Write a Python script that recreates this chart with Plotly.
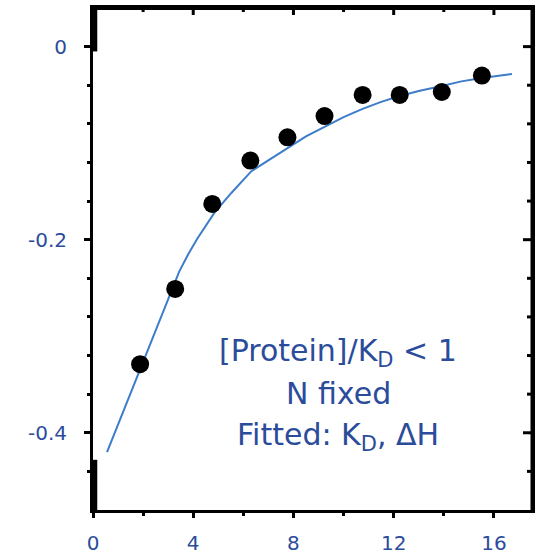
import plotly.graph_objects as go

# Data points
pts_x = [1.88, 3.28, 4.76, 6.28, 7.76, 9.24, 10.76, 12.24, 13.92, 15.52]
pts_y = [-0.329, -0.251, -0.163, -0.118, -0.094, -0.072, -0.050, -0.050, -0.047, -0.030]

# Fitted curve
fit_x = [0.56, 3.32, 3.44, 3.8, 4.16, 4.84, 5.52, 6.32, 7.24, 7.76, 8.5, 9.24, 10.0, 10.76, 11.5, 12.24, 13.0, 13.92, 14.7, 15.52, 16.72]
fit_y = [-0.420, -0.2397, -0.2330, -0.2150, -0.1990, -0.1723, -0.1516, -0.1290, -0.1135, -0.1050, -0.093, -0.0832, -0.073, -0.0645, -0.0572, -0.0511, -0.046, -0.0407, -0.036, -0.0324, -0.0283]

x_ticks = [0, 4, 8, 12, 16]
x_minor = [2, 6, 10, 14]
y_ticks = [0, -0.2, -0.4]
y_minor = [-0.04, -0.08, -0.12, -0.16, -0.24, -0.28, -0.32, -0.36, -0.44]
y_tick_labels = ["0", "-0.2", "-0.4"]

blue_text = "#2b4c9b"
font_family = "DejaVu Sans"
bg = "white"

fig = go.Figure()
fig.add_trace(go.Scatter(x=fit_x, y=fit_y, mode="lines",
                         line=dict(color="#3d7cc9", width=2), hoverinfo="skip"))
fig.add_trace(go.Scatter(x=pts_x, y=pts_y, mode="markers",
                         marker=dict(color="black", size=18)))

xr = [0, 17.52]
yr = [-0.48, 0.04]

fig.update_layout(
    width=537, height=557,
    margin=dict(l=93, r=5, t=8, b=47, autoexpand=False),
    paper_bgcolor=bg, plot_bgcolor=bg,
    showlegend=False,
    font=dict(family=font_family, color=blue_text),
    xaxis=dict(range=xr, tickvals=x_ticks, ticks="outside", ticklen=5, tickwidth=3,
               tickcolor="black", showline=True, linecolor="black", linewidth=3,
               mirror=True, showgrid=False, zeroline=False, ticklabelstandoff=8,
               tickfont=dict(size=20, color=blue_text, family=font_family),
               minor=dict(tickvals=x_minor, ticks="outside", ticklen=3, tickwidth=3, tickcolor="black", showgrid=False)),
    yaxis=dict(range=yr, tickvals=y_ticks, ticktext=y_tick_labels, ticks="outside", ticklen=6, tickwidth=3,
               tickcolor="black", showline=True, linecolor="black", linewidth=3,
               mirror=True, showgrid=False, zeroline=False, ticklabelstandoff=13,
               tickfont=dict(size=20, color=blue_text, family=font_family),
               minor=dict(tickvals=y_minor, ticks="outside", ticklen=3, tickwidth=3, tickcolor="black", showgrid=False)),
)

# top frame as a filled band (robust against the mirror line not showing)
fig.add_shape(type="rect", xref="paper", yref="paper", ysizemode="pixel", yanchor=1,
              x0=-0.003, x1=1.003, y0=-2, y1=2, fillcolor="black", line=dict(width=0), layer="above")

tick_line = dict(color="black", width=3)
# top inward ticks
for tv, ln in [(v, 6) for v in x_ticks[1:]] + [(v, 3) for v in x_minor]:
    fig.add_shape(type="line", xref="x", yref="paper", ysizemode="pixel", yanchor=1,
                  x0=tv, x1=tv, y0=0, y1=-ln - 1, line=tick_line, layer="above")
# right inward ticks
for tv, ln in [(v, 8) for v in y_ticks] + [(v, 4) for v in y_minor]:
    fig.add_shape(type="line", xref="paper", yref="y", xsizemode="pixel", xanchor=1,
                  y0=tv, y1=tv, x0=0, x1=-ln - 1, line=tick_line, layer="above")
# right frame line, full height
fig.add_shape(type="line", xref="paper", yref="paper", x0=1, x1=1, y0=0, y1=1,
              line=dict(color="black", width=3), layer="above")

# thick segments on the left axis (as in the original)
for y0, y1 in [(0.04, -0.005), (-0.428, -0.48)]:
    fig.add_shape(type="line", xref="paper", yref="y", x0=0.004, x1=0.004, y0=y0, y1=y1,
                  line=dict(color="black", width=5))

ann_font = dict(size=30, color=blue_text, family=font_family)
plot_h = 557 - 8 - 47
for txt, yy in [("[Protein]/K<sub>D</sub> < 1", 352), ("N fixed", 393), ("Fitted: K<sub>D</sub>, ΔH", 436)]:
    fig.add_annotation(text=txt, xref="paper", yref="paper",
                       x=(338 - 93) / (537 - 98), y=(557 - 47 - yy) / plot_h,
                       showarrow=False, font=ann_font, xanchor="center", yanchor="middle")

fig.write_html("out.html", config={"displayModeBar": False},
               post_script="document.body.style.margin='0px';")
